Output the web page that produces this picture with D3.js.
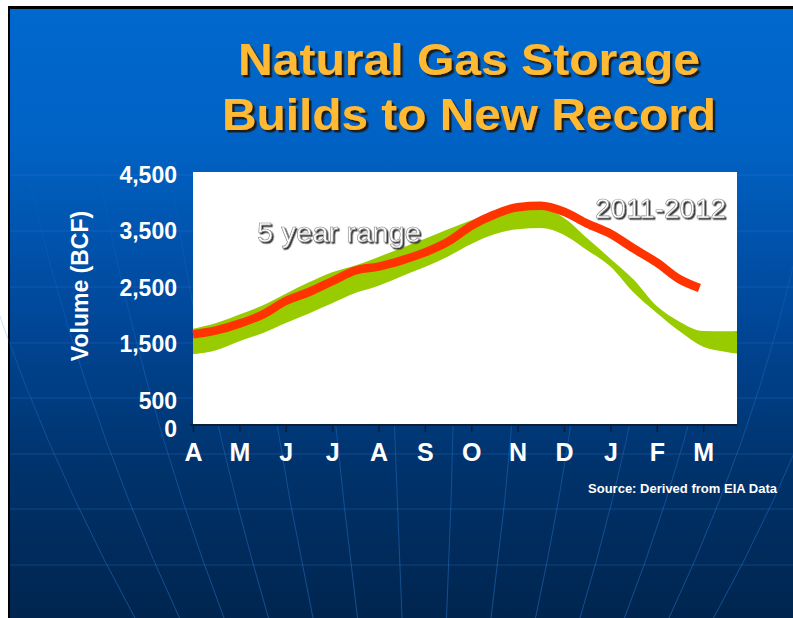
<!DOCTYPE html>
<html>
<head>
<meta charset="utf-8">
<script src="https://cdn.jsdelivr.net/npm/d3@7"></script>
<style>
  body { margin: 0; background: #fff; }
  svg { display: block; }
</style>
</head>
<body>
<div class="panel"></div>
<script>
// month labels along the bottom (April .. March)
const months = ["A", "M", "J", "J", "A", "S", "O", "N", "D", "J", "F", "M"];
const yTicks = [0, 500, 1500, 2500, 3500, 4500];

// x positions are in months from the start of April
const rangePos  = [0, 0.5, 1, 1.5, 2, 2.5, 3, 3.5, 4, 4.5, 5, 5.5, 6, 6.5, 7, 7.5, 8, 8.5, 9, 9.5, 10, 10.5, 11, 11.5, 11.73];
const rangeHigh = [1780, 1880, 2030, 2190, 2400, 2600, 2780, 2900, 3050, 3210, 3370, 3540, 3700, 3840, 3900, 3910, 3740, 3380, 3020, 2650, 2180, 1900, 1740, 1735, 1740];
const rangeLow  = [1330, 1400, 1560, 1700, 1880, 2050, 2230, 2410, 2540, 2710, 2870, 3060, 3280, 3450, 3540, 3560, 3440, 3170, 2880, 2420, 2060, 1730, 1460, 1370, 1340];

const storagePos = [0, 0.5, 1, 1.5, 2, 2.5, 3, 3.5, 4, 4.5, 5, 5.5, 6, 6.5, 7, 7.5, 8, 8.5, 9, 9.5, 10, 10.5, 10.92];
const storage    = [1680, 1750, 1870, 2030, 2270, 2430, 2620, 2810, 2880, 2990, 3130, 3320, 3600, 3800, 3930, 3955, 3850, 3640, 3460, 3200, 2950, 2650, 2500];

const width = 793;
const height = 618;
const font = "'Liberation Sans', Arial, sans-serif";

const svg = d3.select(".panel")
  .append("svg")
  .attr("width", width)
  .attr("height", height);

const defs = svg.append("defs");

// slide background
const grad = defs.append("linearGradient")
  .attr("id", "bg").attr("x1", 0).attr("y1", 0).attr("x2", 0).attr("y2", 1);
grad.append("stop").attr("offset", "0%").attr("stop-color", "#0068ce");
grad.append("stop").attr("offset", "22%").attr("stop-color", "#0062c4");
grad.append("stop").attr("offset", "50%").attr("stop-color", "#00489a");
grad.append("stop").attr("offset", "75%").attr("stop-color", "#00336c");
grad.append("stop").attr("offset", "100%").attr("stop-color", "#00254f");

// meridians fade in towards the bottom
const fade = defs.append("linearGradient")
  .attr("id", "fade").attr("gradientUnits", "userSpaceOnUse")
  .attr("x1", 0).attr("y1", 150).attr("x2", 0).attr("y2", 618);
fade.append("stop").attr("offset", "0%").attr("stop-color", "#2f80dc").attr("stop-opacity", 0);
fade.append("stop").attr("offset", "45%").attr("stop-color", "#2f80dc").attr("stop-opacity", 0.3);
fade.append("stop").attr("offset", "100%").attr("stop-color", "#2f80dc").attr("stop-opacity", 0.45);

const titleShadow = defs.append("filter").attr("id", "titleShadow");
titleShadow.append("feDropShadow").attr("dx", 2.5).attr("dy", 2.5).attr("stdDeviation", 0.4)
  .attr("flood-color", "#1a1a1a").attr("flood-opacity", 1);
const embossShadow = defs.append("filter").attr("id", "embossShadow");
embossShadow.append("feDropShadow").attr("dx", 1.5).attr("dy", 1.5).attr("stdDeviation", 0.3)
  .attr("flood-color", "#333").attr("flood-opacity", 1);

svg.append("rect").attr("x", 8).attr("y", 6).attr("width", 785).attr("height", 612).attr("fill", "#000");
svg.append("rect").attr("x", 10).attr("y", 9).attr("width", 783).attr("height", 609).attr("fill", "url(#bg)");

// faint globe grid behind everything
const globe = svg.append("g").attr("fill", "none");
[175, 231, 287, 343, 398, 454, 509, 565].forEach(y => {
  globe.append("line").attr("x1", 10).attr("x2", width).attr("y1", y).attr("y2", y)
    .attr("stroke", "#2f80dc").attr("stroke-opacity", 0.3);
});
d3.range(0, 14).forEach(i => {
  const xTop = -49 + 72.1 * i;
  const xBot = 135 + 44.5 * i;
  globe.append("path")
    .attr("stroke", "url(#fade)")
    .attr("d", `M${xTop},150 Q${(xTop + xBot) / 2 + (i - 6) * 6},384 ${xBot},618`);
});

// title
const title = svg.append("g")
  .attr("font-family", "'Liberation Sans Narrow', 'Arial Narrow', " + font)
  .attr("font-weight", "bold")
  .attr("font-size", 44)
  .attr("text-anchor", "middle")
  .attr("filter", "url(#titleShadow)");
[["Natural Gas Storage", 75, 462], ["Builds to New Record", 130, 494]].forEach(([t, y, w]) => {
  title.append("text").attr("x", 469).attr("y", y).attr("fill", "#ffb932")
    .attr("textLength", w).attr("lengthAdjust", "spacingAndGlyphs").text(t);
});

// scales
const xScale = d3.scaleLinear().domain([0, 11.73]).range([193, 737]);
const yScale = d3.scaleLinear().domain([0, 4500]).range([429.3, 175]);

// white plot panel
svg.append("rect")
  .attr("x", xScale(0)).attr("y", 172)
  .attr("width", xScale(11.73) - xScale(0)).attr("height", 252)
  .attr("fill", "#fff");

// 5 year range band
const rangeData = rangePos.map((p, i) => ({ p, lo: rangeLow[i], hi: rangeHigh[i] }));
svg.append("path")
  .datum(rangeData)
  .attr("fill", "#99cc00")
  .attr("d", d3.area()
    .x(d => xScale(d.p))
    .y0(d => yScale(d.lo))
    .y1(d => yScale(d.hi))
    .curve(d3.curveMonotoneX));

// 2011-2012 storage
const storageData = storagePos.map((p, i) => ({ p, v: storage[i] }));
svg.append("path")
  .datum(storageData)
  .attr("fill", "none")
  .attr("stroke", "#ff3300")
  .attr("stroke-width", 8.5)
  .attr("stroke-linejoin", "round")
  .attr("d", d3.line()
    .x(d => xScale(d.p))
    .y(d => yScale(d.v))
    .curve(d3.curveMonotoneX));

// x axis
const xAxis = d3.axisBottom(xScale)
  .tickValues(d3.range(months.length))
  .tickFormat(i => months[i])
  .tickSize(7)
  .tickSizeOuter(0)
  .tickPadding(11);

const gx = svg.append("g")
  .attr("transform", "translate(0,425)")
  .call(xAxis);
gx.select(".domain").attr("stroke", "#0b1f3a").attr("stroke-width", 2)
  .attr("d", `M190,0H${xScale(11.73)}`);
gx.selectAll(".tick line").attr("stroke", "#0b1f3a").attr("stroke-width", 1.5);
gx.selectAll(".tick text")
  .attr("fill", "#fff")
  .attr("font-family", font)
  .attr("font-weight", "bold")
  .attr("font-size", 25);

// y axis
const yAxis = d3.axisLeft(yScale)
  .tickValues(yTicks)
  .tickFormat(d3.format(","))
  .tickSize(0)
  .tickPadding(0);

const gy = svg.append("g")
  .attr("transform", "translate(177,0)")
  .call(yAxis);
gy.select(".domain").remove();
gy.selectAll(".tick text")
  .attr("fill", "#fff")
  .attr("font-family", font)
  .attr("font-weight", "bold")
  .attr("font-size", 23);

svg.append("text")
  .attr("transform", "translate(88,286) rotate(-90)")
  .attr("text-anchor", "middle")
  .attr("fill", "#fff")
  .attr("font-family", font)
  .attr("font-weight", "bold")
  .attr("font-size", 23)
  .text("Volume (BCF)");

// embossed annotations inside the plot
function emboss(t, x, y, w) {
  svg.append("text").attr("x", x).attr("y", y)
    .attr("font-family", font).attr("font-size", 28)
    .attr("fill", "#fff")
    .attr("stroke", "#888").attr("stroke-width", 0.6)
    .attr("filter", "url(#embossShadow)")
    .attr("textLength", w).attr("lengthAdjust", "spacingAndGlyphs").text(t);
}
emboss("5 year range", 257, 242, 164);
emboss("2011-2012", 595, 218, 131);

// source note
svg.append("text")
  .attr("x", 777).attr("y", 493)
  .attr("text-anchor", "end")
  .attr("fill", "#fff")
  .attr("font-family", font)
  .attr("font-weight", "bold")
  .attr("font-size", 12)
  .attr("textLength", 189)
  .attr("lengthAdjust", "spacingAndGlyphs")
  .text("Source: Derived from EIA Data");
</script>
</body>
</html>
